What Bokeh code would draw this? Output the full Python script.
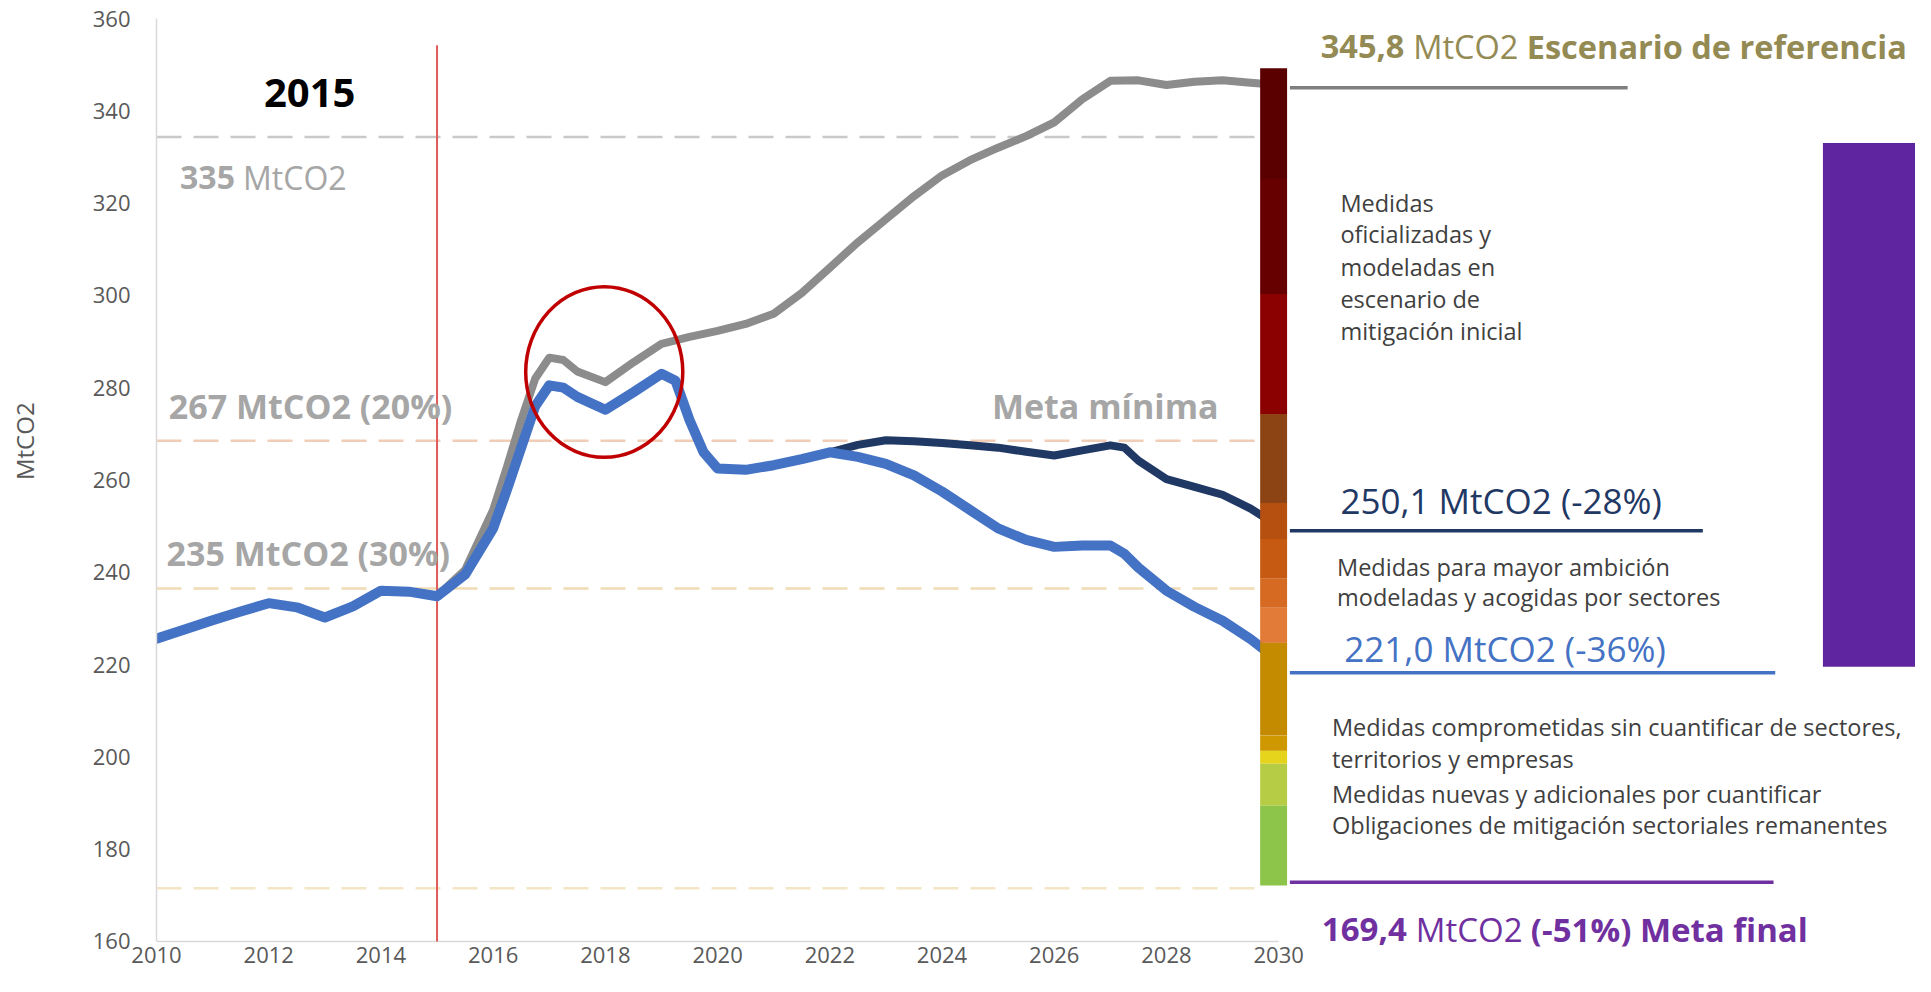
import math
from bokeh.plotting import figure
from bokeh.layouts import row
from bokeh.models import Range1d, FixedTicker, Label
from bokeh.core.properties import value
from bokeh.embed import file_html
from bokeh.resources import INLINE

FONT = "Open Sans"

# ---------------- data ----------------
x_ticks = list(range(2010, 2031, 2))
y_ticks = list(range(160, 361, 20))
x_axis_span = (2010, 2030)
y_axis_span = (160, 360)
y_title = "MtCO2"
y_title_pos = 268.4

# Reference scenario (gray)
ref_x = [2010, 2010.5, 2011, 2011.5, 2012, 2012.5, 2013, 2013.5, 2014, 2014.5, 2015, 2015.5,
         2016, 2016.25, 2016.5, 2016.75, 2017, 2017.25, 2017.5, 2018, 2018.5, 2019, 2019.5,
         2020, 2020.5, 2021, 2021.5, 2022, 2022.5, 2023, 2023.5, 2024, 2024.5, 2025, 2025.5,
         2026, 2026.5, 2027, 2027.5, 2028, 2028.5, 2029, 2029.5, 2030]
ref_y = [225.6, 227.6, 229.6, 231.5, 233.3, 232.4, 230.2, 232.6, 236.0, 235.8, 234.8, 240.5,
         253.5, 263.0, 273.0, 282.0, 286.5, 286.0, 283.5, 281.2, 285.5, 289.5, 291.0,
         292.3, 293.8, 296.0, 300.5, 306.0, 311.5, 316.5, 321.5, 326.0, 329.3, 332.0, 334.5,
         337.5, 342.5, 346.5, 346.6, 345.6, 346.3, 346.6, 346.1, 345.6]

# Mitigation scenario (light blue)
mit_x = [2010, 2010.5, 2011, 2011.5, 2012, 2012.5, 2013, 2013.5, 2014, 2014.5, 2015, 2015.5,
         2016, 2016.25, 2016.5, 2016.75, 2017, 2017.25, 2017.5, 2018, 2018.5, 2019, 2019.25,
         2019.5, 2019.75, 2020, 2020.5, 2021, 2021.5, 2022, 2022.5, 2023, 2023.5, 2024, 2024.5,
         2025, 2025.5, 2026, 2026.5, 2027, 2027.25, 2027.5, 2028, 2028.5, 2029, 2029.5, 2030]
mit_y = [225.6, 227.6, 229.6, 231.5, 233.3, 232.4, 230.2, 232.6, 236.0, 235.8, 234.8, 239.5,
         249.5, 258.0, 267.0, 276.0, 280.5, 280.0, 278.0, 275.2, 279.0, 283.0, 281.5,
         273.0, 266.0, 262.5, 262.2, 263.2, 264.5, 266.0, 265.0, 263.5, 261.0, 257.5, 253.5,
         249.5, 247.0, 245.5, 245.8, 245.8, 244.0, 241.0, 236.0, 232.5, 229.5, 225.5, 220.8]

# Initial mitigation scenario (navy)
ini_x = [2022, 2022.5, 2023, 2023.5, 2024, 2024.5, 2025, 2025.5, 2026, 2026.5, 2027, 2027.25,
         2027.5, 2028, 2028.5, 2029, 2029.5, 2030]
ini_y = [266.0, 267.6, 268.6, 268.4, 268.0, 267.5, 267.0, 266.1, 265.3, 266.4, 267.5, 267.0,
         264.2, 260.2, 258.5, 256.8, 253.8, 249.9]

# Dashed target levels
goal_levels = [334.3, 268.5, 236.5, 171.5]
goal_colors = ["#c9c9c9", "#f1cdb8", "#f0dcb4", "#f4e6c4"]
goal_start = 2010
goal_end = 2029.6

# 2015 marker
base_year = 2015
base_top = 354.2

# Highlight ellipse
ell_x, ell_y, ell_w, ell_h = 2017.98, 283.4, 2.8, 37.0

# Stacked colour bar at 2030
bar_left, bar_right = 2029.67, 2030.15
bar_tops = [349.2, 325.2, 300.3, 274.3, 255.0, 247.2, 238.6, 232.3, 224.7, 204.6, 201.3, 198.5, 189.4]
bar_bottoms = [325.2, 300.3, 274.3, 255.0, 247.2, 238.6, 232.3, 224.7, 204.6, 201.3, 198.5, 189.4, 172.1]
bar_colors = ["#5a0000", "#660000", "#8b0000", "#8c4414", "#b65010", "#c65a12", "#d66a22",
              "#e27a38", "#c48a00", "#cf9800", "#e6d41c", "#b6cc44", "#8cc54a"]

# Leader lines to the right of the bar
lead_y = [345.0, 249.0, 218.2, 172.8]
lead_x0 = [2030.2, 2030.2, 2030.2, 2030.2]
lead_x1 = [2036.22, 2037.56, 2038.85, 2038.82]
lead_colors = ["#7f7f7f", "#1f3864", "#4472c4", "#7030a0"]

# Purple box
box_left, box_right, box_bottom, box_top = 2039.7, 2043.0, 219.5, 333.0

# Notes
note_texts = ["Medidas", "oficializadas y", "modeladas en", "escenario de", "mitigación inicial",
              "Medidas para mayor ambición", "modeladas y acogidas por sectores",
              "Medidas comprometidas sin cuantificar de sectores,", "territorios y empresas",
              "Medidas nuevas y adicionales por cuantificar",
              "Obligaciones de mitigación sectoriales remanentes"]
note_x = [2031.1] * 5 + [2031.04] * 2 + [2030.95] * 4
note_y = [320.0, 313.2, 306.2, 299.2, 292.3, 241.1, 234.7, 206.4, 199.5, 192.0, 185.3]

# ---------------- main figure ----------------
yr = Range1d(158.9, 360)
p = figure(width=1875, height=976, x_range=Range1d(2010, 2041.35), y_range=yr,
           output_backend="svg", toolbar_location=None,
           min_border_left=116, min_border_right=0, min_border_top=18, min_border_bottom=30)
p.outline_line_color = None
p.xgrid.grid_line_color = None
p.ygrid.grid_line_color = None
p.background_fill_color = "white"

xa = p.xaxis[0]
xa.ticker = FixedTicker(ticks=x_ticks)
xa.axis_line_color = None
xa.major_tick_line_color = None
xa.minor_tick_line_color = None
xa.major_tick_out = 0
xa.major_tick_in = 0
xa.major_label_standoff = 0
xa.major_label_text_font = FONT
xa.major_label_text_font_size = "22px"
xa.major_label_text_color = "#595959"

ya = p.yaxis[0]
ya.ticker = FixedTicker(ticks=y_ticks)
ya.bounds = y_axis_span
ya.axis_line_color = "#d9d9d9"
ya.axis_line_width = 1.5
ya.major_tick_line_color = None
ya.minor_tick_line_color = None
ya.major_tick_out = 0
ya.major_label_standoff = 26
ya.major_label_text_font = FONT
ya.major_label_text_font_size = "22px"
ya.major_label_text_color = "#595959"

# x-axis baseline at the bottom of the value scale
p.segment(x0=[x_axis_span[0]], x1=[x_axis_span[1]], y0=[y_axis_span[0]], y1=[y_axis_span[0]],
          line_color="#d9d9d9", line_width=1.5)

# dashed goal lines
p.segment(x0=[goal_start] * len(goal_levels), x1=[goal_end] * len(goal_levels),
          y0=goal_levels, y1=goal_levels, line_color=goal_colors, line_width=2.5,
          line_dash="25 12")

# 2015 vertical line
p.segment(x0=[base_year], x1=[base_year], y0=[y_axis_span[0]], y1=[base_top],
          line_color="#e05a5a", line_width=2)

# series
p.line(ref_x, ref_y, line_color="#8c8c8c", line_width=8, line_join="round", line_cap="round")
p.line(ini_x, ini_y, line_color="#1f3864", line_width=8, line_join="round", line_cap="round")
p.line(mit_x, mit_y, line_color="#4472c4", line_width=10, line_join="round", line_cap="round")

# ellipse
p.ellipse(x=[ell_x], y=[ell_y], width=[ell_w], height=[ell_h], fill_color=None,
          line_color="#c00000", line_width=3.5)

# colour bar
p.quad(left=[bar_left] * len(bar_tops), right=[bar_right] * len(bar_tops),
       top=bar_tops, bottom=bar_bottoms, fill_color=bar_colors, line_color=None)

# leader lines
p.segment(x0=lead_x0, x1=lead_x1, y0=lead_y, y1=lead_y, line_color=lead_colors, line_width=3.5)

# purple box
p.quad(left=[box_left], right=[box_right], top=[box_top], bottom=[box_bottom],
       fill_color="#5f249f", line_color=None)

# notes
p.text(x=note_x, y=note_y, text=note_texts, text_font=value(FONT), text_font_size="23.5px",
       text_color="#404040", text_align="left", text_baseline="middle")


def lab(x, y, text, size, color, style="bold", align="left", xoff=0):
    p.add_layout(Label(x=x, y=y, text=text, text_font=FONT, text_font_size=size,
                       text_font_style=style, text_color=color, text_align=align,
                       text_baseline="middle", x_offset=xoff))


GRAY = "#a6a6a6"
lab(2012.73, 343.9, "2015", "40px", "#000000", align="center")
lab(2010.42, 325.5, "335", "32px", GRAY)
lab(2010.42, 325.5, "MtCO2", "32px", GRAY, style="normal", xoff=63)
lab(2010.22, 276.0, "267 MtCO2 (20%)", "34px", GRAY)
lab(2010.18, 244.2, "235 MtCO2 (30%)", "34px", GRAY)
lab(2026.91, 276.0, "Meta mínima", "34px", GRAY, align="center")

OLIVE = "#948a54"
lab(2030.75, 354.0, "345,8", "32.5px", OLIVE)
lab(2030.75, 354.0, "MtCO2", "32.5px", OLIVE, style="normal", xoff=92.5)
lab(2030.75, 354.0, "Escenario de referencia", "32.5px", OLIVE, xoff=206)

lab(2031.1, 255.5, "250,1 MtCO2 (-28%)", "35px", "#1f3864", style="normal")
lab(2031.17, 223.5, "221,0 MtCO2 (-36%)", "35px", "#4472c4", style="normal")

PURP = "#7030a0"
lab(2030.77, 162.6, "169,4", "33px", PURP)
lab(2030.77, 162.6, "MtCO2", "33px", PURP, style="normal", xoff=94)
lab(2030.77, 162.6, "(-51%) Meta final", "33px", PURP, xoff=209)

# ---------------- axis title strip ----------------
t = figure(width=40, height=976, x_range=Range1d(0, 1), y_range=yr,
           output_backend="svg", toolbar_location=None,
           x_axis_location=None, y_axis_location=None,
           min_border_left=0, min_border_right=0, min_border_top=18, min_border_bottom=30)
t.outline_line_color = None
t.background_fill_color = "white"
t.grid.grid_line_color = None
t.xgrid.grid_line_color = None
t.ygrid.grid_line_color = None
t.text(x=[0.6], y=[y_title_pos], text=[y_title], angle=math.pi / 2, text_font=value(FONT),
       text_font_size="24px", text_color="#595959", text_align="center", text_baseline="middle")

layout = row(t, p, spacing=0)
open("out.html", "w").write(file_html(layout, INLINE))
